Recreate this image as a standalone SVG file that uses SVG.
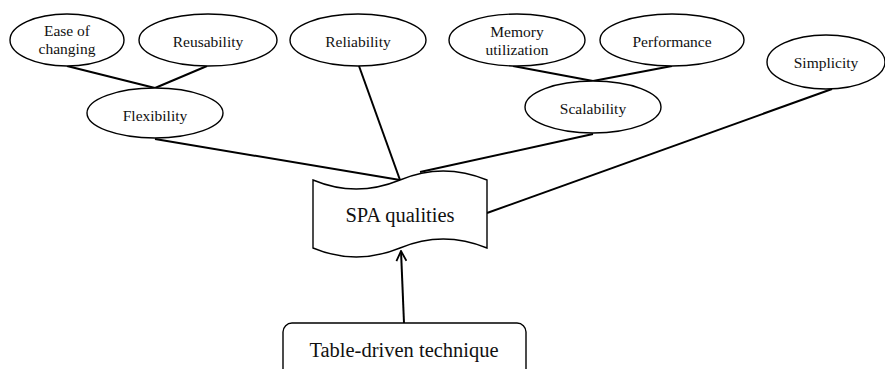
<svg xmlns="http://www.w3.org/2000/svg" width="885" height="369" viewBox="0 0 885 369">
  <defs>
    <style>
      .node { fill: #fff; stroke: #000; stroke-width: 1.4; }
      .lbl { font-family: "Liberation Serif", "Times New Roman", serif; font-size: 15.5px; fill: #111; text-anchor: middle; }
      .big { font-family: "Liberation Serif", "Times New Roman", serif; font-size: 20.5px; fill: #111; text-anchor: middle; }
      .edge { stroke: #000; stroke-width: 2; fill: none; }
    </style>
    <marker id="open-arrow" viewBox="0 0 12 12" refX="11" refY="6" markerWidth="12" markerHeight="12" markerUnits="userSpaceOnUse" orient="auto">
      <path d="M1,1 L11,6 L1,11" fill="none" stroke="#000" stroke-width="1.8"/>
    </marker>
  </defs>

  <g id="connectors">
    <line class="edge" x1="67" y1="66" x2="155" y2="88"/>
    <line class="edge" x1="207" y1="66" x2="155" y2="88"/>
    <line class="edge" x1="513" y1="66" x2="593" y2="81"/>
    <line class="edge" x1="672" y1="66" x2="593" y2="81"/>
    <line class="edge" x1="155" y1="139" x2="400" y2="180"/>
    <line class="edge" x1="359" y1="66" x2="400" y2="180"/>
    <line class="edge" x1="593" y1="134" x2="420" y2="172"/>
    <line class="edge" x1="832" y1="89" x2="487" y2="213"/>
    <line class="edge" x1="404" y1="323" x2="401" y2="251" marker-end="url(#open-arrow)"/>
  </g>

  <g id="ease-of-changing">
    <ellipse class="node" cx="67" cy="40" rx="57" ry="26"/>
    <text class="lbl" x="67" y="36">Ease of</text>
    <text class="lbl" x="67" y="54">changing</text>
  </g>
  <g id="reusability">
    <ellipse class="node" cx="208" cy="40" rx="69" ry="26"/>
    <text class="lbl" x="208" y="47">Reusability</text>
  </g>
  <g id="flexibility">
    <ellipse class="node" cx="155" cy="113" rx="68" ry="25"/>
    <text class="lbl" x="155" y="121">Flexibility</text>
  </g>
  <g id="reliability">
    <ellipse class="node" cx="358" cy="40" rx="68" ry="26"/>
    <text class="lbl" x="358" y="47">Reliability</text>
  </g>
  <g id="memory-utilization">
    <ellipse class="node" cx="517" cy="40" rx="68" ry="26"/>
    <text class="lbl" x="517" y="37">Memory</text>
    <text class="lbl" x="517" y="55">utilization</text>
  </g>
  <g id="performance">
    <ellipse class="node" cx="672" cy="40" rx="72" ry="26"/>
    <text class="lbl" x="672" y="47">Performance</text>
  </g>
  <g id="scalability">
    <ellipse class="node" cx="593" cy="107" rx="68" ry="26"/>
    <text class="lbl" x="593" y="114">Scalability</text>
  </g>
  <g id="simplicity">
    <ellipse class="node" cx="826" cy="62" rx="59" ry="27"/>
    <text class="lbl" x="826" y="68">Simplicity</text>
  </g>

  <g id="spa-qualities">
    <path class="node" d="M313,180 Q356,198 400,180 Q443,162 487,180 L487,248 Q443,230 400,248 Q356,266 313,248 Z"/>
    <text class="big" x="400" y="222">SPA qualities</text>
  </g>

  <g id="table-driven-technique">
    <rect class="node" x="283" y="323" width="243" height="60" rx="9"/>
    <text class="big" x="404" y="357">Table-driven technique</text>
  </g>
</svg>
